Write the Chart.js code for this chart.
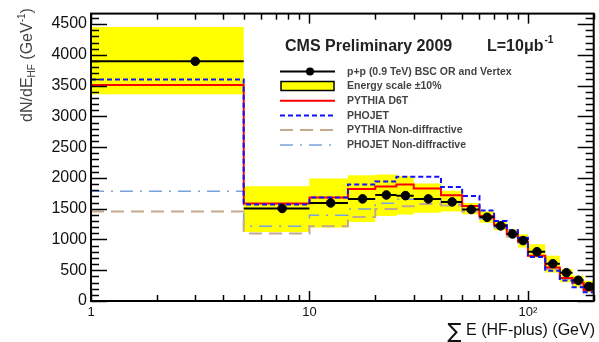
<!DOCTYPE html>
<html><head><meta charset="utf-8">
<script src="https://cdn.jsdelivr.net/npm/chart.js@4/dist/chart.umd.min.js"></script>
<style>html,body{margin:0;padding:0;background:#fff;overflow:hidden}#c{display:block}</style>
</head><body>
<canvas id="c" width="599" height="342"></canvas>
<script>
// ---- data ----
const binEdges   = [1,5,10,15,20,25,30,40,50,60,70,80,90,100,120,140,160,180,200];
const binCenters = [3,7.5,12.5,17.5,22.5,27.5,35,45,55,65,75,85,95,110,130,150,170,190];
const dataValues = [3895,1504,1593,1659,1723,1712,1659,1610,1487,1360,1221,1089,982,801,606,460,337,235];
const bandHigh   = [4451,1864,1990,2045,2055,2030,1911,1792,1593,1460,1287,1164,1084,923,734,519,411,331];
const bandLow    = [3360,1122,1196,1285,1380,1407,1434,1454,1408,1272,1149,1030,869,707,465,303,223,144];
const pythiaD6T  = [3508,1583,1682,1821,1861,1891,1826,1717,1544,1380,1229,1084,965,734,545,374,298,174];
const phojet     = [3598,1568,1682,1891,1940,2020,2020,1851,1707,1472,1299,1149,1029,715,492,333,224,142];
const pythiaND   = [1454,1097,1216,1365,1494,1539,1578,1553,1454,1335,1186,1047,938,730,521,363,258,164];
const phojetND   = [1782,1216,1395,1494,1588,1653,1663,1573,1464,1335,1196,1067,948,730,521,363,253,154];
const xTickValues = [1,10,100];
const xTickLabels = ['1','10','10\u00B2'];
const yTickValues = [0,500,1000,1500,2000,2500,3000,3500,4000,4500];
const yTickLabels = ['0','500','1000','1500','2000','2500','3000','3500','4000','4500'];
const legendLabels = ['p+p (0.9 TeV) BSC OR and Vertex','Energy scale \u00B110%','PYTHIA D6T','PHOJET','PYTHIA Non-diffractive','PHOJET Non-diffractive'];

// ---- helpers to build library data ----
function histPoints(vals){
  return binEdges.map((e,i)=>({x:e, y:vals[Math.min(i, vals.length-1)]}));
}
function errBarPoints(vals){
  const pts=[];
  vals.forEach((v,i)=>{
    pts.push({x:binEdges[i], y:v});
    pts.push({x:binEdges[i+1], y:v});
    pts.push({x:binEdges[i+1], y:null});
  });
  return pts;
}
const FONT = '"Liberation Sans", Arial, Helvetica, sans-serif';
const COL = {red:'#ff0000', blue:'#1010ff', tan:'#c4a98c', lblue:'#7aa2dc', yellow:'#ffff00'};
const DASH = {blue:[5,3], tan:[13,7], lblue:[13,7,2,7]};

const rootStyle = {
  id:'rootStyle',
  afterDraw(chart){
    const {ctx, chartArea:a, scales:{x,y}} = chart;
    ctx.save();
    ctx.strokeStyle='#000';
    ctx.lineWidth=1.5;
    const seg=(x1,y1,x2,y2)=>{ctx.beginPath();ctx.moveTo(x1,y1);ctx.lineTo(x2,y2);ctx.stroke();};
    // y ticks (left and right, inward)
    for(let v=0; v<=y.max; v+=100){
      const py=Math.round(y.getPixelForValue(v))+0.5;
      const len = (v%500===0)?16:8;
      seg(a.left,py,a.left+len,py);
      seg(a.right,py,a.right-len,py);
    }
    // x ticks (bottom and top, inward)
    for(const d of [1,10,100]){
      for(let m=1;m<=9;m++){
        const v=m*d; if(v<x.min||v>x.max) continue;
        const px=Math.round(x.getPixelForValue(v))+0.5;
        const len=(m===1)?10:6;
        seg(px,a.bottom,px,a.bottom-len);
        seg(px,a.top,px,a.top+len);
      }
    }
    // frame
    ctx.lineWidth=2;
    ctx.strokeRect(a.left,a.top,a.right-a.left,a.bottom-a.top);

    // y-axis title (rotated)
    ctx.fillStyle='#444';
    ctx.save();
    ctx.translate(32,65);
    ctx.rotate(-Math.PI/2);
    ctx.textBaseline='alphabetic';
    const parts=[['dN/dE',16,0],['HF',10,3],[' (GeV',16,0],['-1',10,-7],[')',16,0]];
    let tw=0;
    parts.forEach(p=>{ctx.font=p[1]+'px '+FONT; tw+=ctx.measureText(p[0]).width;});
    let cx=-tw/2;
    parts.forEach(p=>{ctx.font=p[1]+'px '+FONT; ctx.fillText(p[0],cx,p[2]); cx+=ctx.measureText(p[0]).width;});
    ctx.restore();

    // x-axis title
    ctx.fillStyle='#111';
    ctx.textBaseline='alphabetic';
    ctx.textAlign='left';
    ctx.font='16px '+FONT;
    const t2=' E (HF-plus) (GeV)';
    const w2=ctx.measureText(t2).width;
    ctx.fillText(t2, 595-w2, 335);
    ctx.font='21px "DejaVu Sans", '+FONT;
    const ws=ctx.measureText('\u2211').width;
    ctx.fillText('\u2211', 595-w2-ws, 338);

    // header
    ctx.fillStyle='#222';
    ctx.font='bold 16px '+FONT;
    ctx.fillText('CMS Preliminary 2009', 285, 51);
    ctx.fillText('L=10\u03BCb', 487, 51);
    const wl=ctx.measureText('L=10\u03BCb').width;
    ctx.font='bold 10px '+FONT;
    ctx.fillText('-1', 487+wl+1, 43);

    // legend
    const lx1=280, lx2=335, tx=347;
    const rows=[71.5,86,100.7,115.5,130,145];
    ctx.font='bold 10.5px '+FONT;
    ctx.fillStyle='#444';
    ctx.textBaseline='middle';
    legendLabels.forEach((s,i)=>ctx.fillText(s,tx,rows[i]+0.5));
    const lineRow=(r,color,w,dash)=>{ctx.save();ctx.strokeStyle=color;ctx.lineWidth=w;ctx.setLineDash(dash||[]);seg(lx1,r,lx2,r);ctx.restore();};
    lineRow(rows[0],'#000',2);
    ctx.fillStyle='#000';ctx.beginPath();ctx.arc(310,rows[0],4,0,Math.PI*2);ctx.fill();
    ctx.fillStyle=COL.yellow;ctx.fillRect(lx1+1,rows[1]-4.5,lx2-lx1-2,9);
    ctx.lineWidth=1.5;ctx.strokeStyle='#000';ctx.strokeRect(lx1+1,rows[1]-4.5,lx2-lx1-2,9);
    lineRow(rows[2],COL.red,2);
    lineRow(rows[3],COL.blue,2,DASH.blue);
    lineRow(rows[4],COL.tan,2,DASH.tan);
    lineRow(rows[5],COL.lblue,1.5,DASH.lblue);
    ctx.restore();
  }
};

const lineDs=(label,vals,color,width,dash,order)=>({
  type:'line', label, data:histPoints(vals), borderColor:color, borderWidth:width,
  borderDash:dash||[], stepped:'before', pointRadius:0, fill:false, order
});

new Chart(document.getElementById('c'),{
  data:{datasets:[
    {type:'scatter', label:'points', data:binCenters.map((c,i)=>({x:c,y:dataValues[i]})),
     pointRadius:4.3, pointBackgroundColor:'#000', pointBorderColor:'#000', showLine:false, order:0},
    {type:'line', label:'xerr', data:errBarPoints(dataValues), borderColor:'#000', borderWidth:2,
     pointRadius:0, spanGaps:false, fill:false, order:1},
    lineDs('PYTHIA D6T',pythiaD6T,COL.red,2,null,3),
    lineDs('PHOJET',phojet,COL.blue,2,DASH.blue,2),
    lineDs('PYTHIA ND',pythiaND,COL.tan,2,DASH.tan,4),
    lineDs('PHOJET ND',phojetND,COL.lblue,1.5,DASH.lblue,5),
    {type:'line', label:'bandHigh', data:histPoints(bandHigh), stepped:'before', borderWidth:0,
     borderColor:'rgba(0,0,0,0)', backgroundColor:COL.yellow, pointRadius:0, fill:'+1', order:10},
    {type:'line', label:'bandLow', data:histPoints(bandLow), stepped:'before', borderWidth:0,
     borderColor:'rgba(0,0,0,0)', pointRadius:0, fill:false, order:11}
  ]},
  options:{
    responsive:false, animation:false, devicePixelRatio:1,
    layout:{padding:{left:0,right:4,top:11,bottom:0}},
    plugins:{legend:{display:false}, tooltip:{enabled:false}},
    scales:{
      x:{type:'logarithmic', min:1, max:200,
        grid:{display:false, drawTicks:false}, border:{display:false},
        afterBuildTicks:s=>{s.ticks=xTickValues.map(v=>({value:v}));},
        afterFit:s=>{s.height=41;},
        ticks:{autoSkip:false, maxRotation:0, padding:4, color:'#111',
          font:{family:FONT,size:13},
          callback:(v)=>{const i=xTickValues.indexOf(v);return i>=0?xTickLabels[i]:'';}}
      },
      y:{type:'linear', min:0, max:4670,
        grid:{display:false, drawTicks:false}, border:{display:false},
        afterBuildTicks:s=>{s.ticks=yTickValues.map(v=>({value:v}));},
        afterFit:s=>{s.width=91;},
        ticks:{autoSkip:false, padding:4, color:'#111',
          font:{family:FONT,size:16},
          callback:(v)=>{const i=yTickValues.indexOf(v);return i>=0?yTickLabels[i]:'';}}
      }
    }
  },
  plugins:[rootStyle]
});
</script>
</body></html>
